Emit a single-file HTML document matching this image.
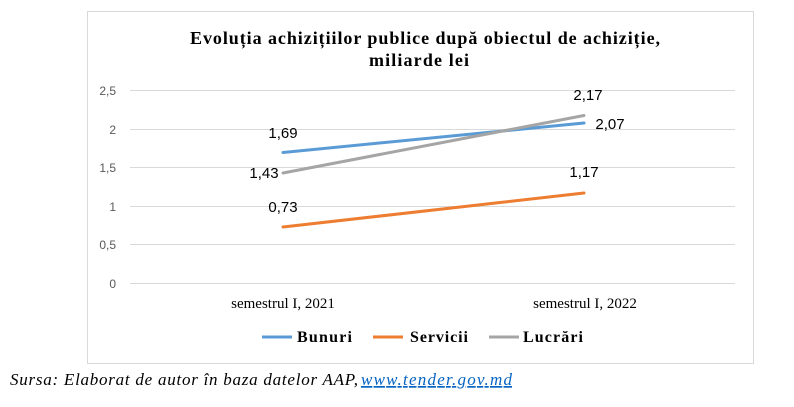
<!DOCTYPE html>
<html><head><meta charset="utf-8"><style>body{margin:0;background:#fff}</style></head><body>
<svg width="794" height="402" xmlns="http://www.w3.org/2000/svg">
<rect x="87.5" y="11.5" width="666" height="352" fill="#fff" stroke="#d9d9d9"/>
<g font-family="Liberation Serif, serif" font-weight="bold" font-size="18" fill="#000">
<text x="190" y="44" textLength="470" lengthAdjust="spacing">Evoluția achizițiilor publice după obiectul de achiziție,</text>
<text x="369" y="66" textLength="100" lengthAdjust="spacing">miliarde lei</text>
</g>
<g stroke="#d9d9d9" stroke-width="1">
<line x1="130" x2="735" y1="90.5" y2="90.5"/><line x1="130" x2="735" y1="129.5" y2="129.5"/>
<line x1="130" x2="735" y1="167.5" y2="167.5"/><line x1="130" x2="735" y1="206.5" y2="206.5"/>
<line x1="130" x2="735" y1="244.5" y2="244.5"/><line x1="130" x2="735" y1="283.5" y2="283.5"/>
</g>
<g font-family="Liberation Sans, sans-serif" font-size="12" fill="#595959" text-anchor="end">
<text x="116" y="95">2,5</text><text x="116" y="134">2</text><text x="116" y="172">1,5</text>
<text x="116" y="211">1</text><text x="116" y="249">0,5</text><text x="116" y="288">0</text>
</g>
<g font-family="Liberation Serif, serif" font-size="15" fill="#000" text-anchor="middle">
<text x="283" y="308">semestrul I, 2021</text><text x="585" y="308">semestrul I, 2022</text>
</g>
<g stroke-width="3" fill="none" stroke-linecap="round">
<line x1="283" y1="152.5" x2="584" y2="123" stroke="#5b9bd5"/>
<line x1="283" y1="227" x2="584" y2="193" stroke="#ed7d31"/>
<line x1="283" y1="173" x2="584" y2="115.5" stroke="#a5a5a5"/>
</g>
<g font-family="Liberation Sans, sans-serif" font-size="15" fill="#000" text-anchor="middle">
<text x="283" y="138">1,69</text><text x="610" y="129">2,07</text>
<text x="283" y="212">0,73</text><text x="584" y="177">1,17</text>
<text x="264" y="178">1,43</text><text x="588" y="100">2,17</text>
</g>
<g font-family="Liberation Serif, serif" font-weight="bold" font-size="16" fill="#000">
<line x1="262" x2="292" y1="337" y2="337" stroke="#5b9bd5" stroke-width="3"/><text x="297" y="342" textLength="55" lengthAdjust="spacing">Bunuri</text>
<line x1="373" x2="403" y1="337" y2="337" stroke="#ed7d31" stroke-width="3"/><text x="410" y="342" textLength="58" lengthAdjust="spacing">Servicii</text>
<line x1="489" x2="519" y1="337" y2="337" stroke="#a5a5a5" stroke-width="3"/><text x="523" y="342" textLength="60" lengthAdjust="spacing">Lucrări</text>
</g>
<text x="10" y="385" font-family="Liberation Serif, serif" font-style="italic" font-size="17" fill="#000" textLength="348" lengthAdjust="spacing">Sursa: Elaborat de autor în baza datelor AAP,</text>
<text x="361" y="385" font-family="Liberation Serif, serif" font-style="italic" font-size="17" fill="#0563c1" text-decoration="underline" textLength="151" lengthAdjust="spacing">www.tender.gov.md</text>
</svg>
</body></html>
